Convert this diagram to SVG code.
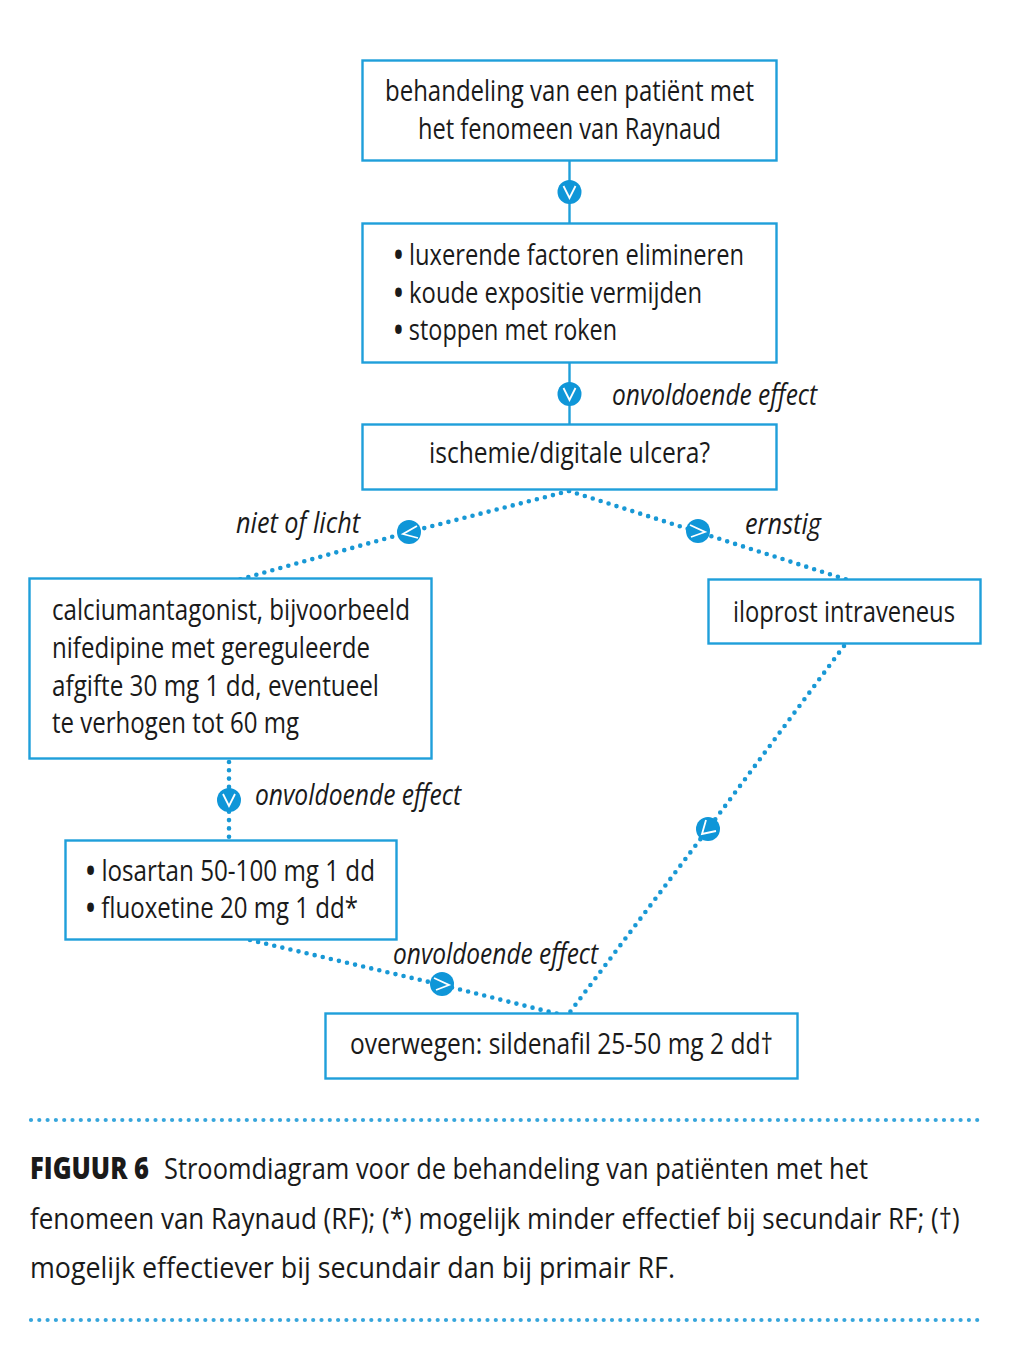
<svg xmlns="http://www.w3.org/2000/svg" width="1010" height="1359" viewBox="0 0 1010 1359">
<style>
text{font-family:"Open Sans","Noto Sans",sans-serif;font-size:30px;fill:#1a1a1a}
.i{font-style:italic}
.b{font-weight:800}
.n{font-weight:700}
.box{fill:#fff;stroke:#1f9fda;stroke-width:2.4}
.solid{fill:none;stroke:#1f9fda;stroke-width:2.4}
.dot{fill:none;stroke:#1898d5;stroke-width:4.6;stroke-linecap:round;stroke-dasharray:0 8.3}
.rule{stroke:#37a6dc;stroke-width:4.2}
.c{fill:#0f96d8}
.v{fill:none;stroke:#fff;stroke-width:1.8}
</style>
<rect width="1010" height="1359" fill="#fff"/>
<g id="connectors">
<path class="solid" d="M569.500 160V223"/>
<path class="solid" d="M569.500 362V424"/>
<path class="dot" d="M569 491L409 532L234 581"/>
<path class="dot" d="M569 491L698 532L851 581"/>
<path class="dot" d="M229 762V843"/>
<path class="dot" d="M844 646L708 829L567 1016"/>
<path class="dot" d="M250 940L442 985L558 1014"/>
<g id="arrow1"><circle class="c" cx="569.500" cy="192" r="12"/><path class="v" d="M563.500 186L569.500 198L575.500 186"/></g>
<g id="arrow2"><circle class="c" cx="569.500" cy="394" r="12"/><path class="v" d="M563.500 388L569.500 400L575.500 388"/></g>
<g id="arrow3"><circle class="c" cx="409" cy="532" r="12"/><path class="v" d="M417 526L403 534L418 538"/></g>
<g id="arrow4"><circle class="c" cx="698" cy="531" r="12"/><path class="v" d="M690 525L705 532L691 537"/></g>
<g id="arrow5"><circle class="c" cx="229" cy="800" r="12"/><path class="v" d="M223 794L229 806L235 794"/></g>
<g id="arrow6"><circle class="c" cx="708" cy="829" r="12"/><path class="v" d="M706 820L702 834L716 831"/></g>
<g id="arrow7"><circle class="c" cx="442" cy="984" r="12"/><path class="v" d="M434 978L449 985L436 990"/></g>
</g>
<g id="node-start"><rect class="box" x="362.500" y="60.500" width="414" height="100"/>
<text x="385" y="101" textLength="369" lengthAdjust="spacingAndGlyphs">behandeling van een patiënt met</text>
<text x="418" y="139" textLength="303" lengthAdjust="spacingAndGlyphs">het fenomeen van Raynaud</text></g>
<g id="node-factoren"><rect class="box" x="362.500" y="223.500" width="414" height="139"/>
<text x="394" y="265" textLength="350" lengthAdjust="spacingAndGlyphs"><tspan class="n">•</tspan> luxerende factoren elimineren</text>
<text x="394" y="303" textLength="308" lengthAdjust="spacingAndGlyphs"><tspan class="n">•</tspan> koude expositie vermijden</text>
<text x="394" y="340" textLength="223" lengthAdjust="spacingAndGlyphs"><tspan class="n">•</tspan> stoppen met roken</text></g>
<g id="node-ischemie"><rect class="box" x="362.500" y="424.500" width="414" height="65"/>
<text x="429" y="463" textLength="281" lengthAdjust="spacingAndGlyphs">ischemie/digitale ulcera?</text></g>
<g id="node-calcium"><rect class="box" x="29.500" y="578.500" width="402" height="180"/>
<text x="52" y="620" textLength="358" lengthAdjust="spacingAndGlyphs">calciumantagonist, bijvoorbeeld</text>
<text x="52" y="658" textLength="318" lengthAdjust="spacingAndGlyphs">nifedipine met gereguleerde</text>
<text x="52" y="696" textLength="327" lengthAdjust="spacingAndGlyphs">afgifte 30 mg 1 dd, eventueel</text>
<text x="52" y="733" textLength="247" lengthAdjust="spacingAndGlyphs">te verhogen tot 60 mg</text></g>
<g id="node-iloprost"><rect class="box" x="708.500" y="579.500" width="272" height="64"/>
<text x="0" y="0" transform="translate(733 622) scale(.8 1)" textLength="277.500" lengthAdjust="spacingAndGlyphs">iloprost intraveneus</text></g>
<g id="node-losartan"><rect class="box" x="65.500" y="840.500" width="331" height="99"/>
<text x="86" y="881" textLength="289" lengthAdjust="spacingAndGlyphs"><tspan class="n">•</tspan> losartan 50-100 mg 1 dd</text>
<text x="86" y="918" textLength="272" lengthAdjust="spacingAndGlyphs"><tspan class="n">•</tspan> fluoxetine 20 mg 1 dd*</text></g>
<g id="node-sildenafil"><rect class="box" x="325.500" y="1013.500" width="472" height="65"/>
<text x="350" y="1054" textLength="423" lengthAdjust="spacingAndGlyphs">overwegen: sildenafil 25-50 mg 2 dd†</text></g>
<g id="labels">
<text class="i" x="612" y="405" textLength="205" lengthAdjust="spacingAndGlyphs">onvoldoende effect</text>
<text class="i" x="236" y="533" textLength="124" lengthAdjust="spacingAndGlyphs">niet of licht</text>
<text class="i" x="745" y="534" textLength="76" lengthAdjust="spacingAndGlyphs">ernstig</text>
<text class="i" x="255" y="805" textLength="206" lengthAdjust="spacingAndGlyphs">onvoldoende effect</text>
<text class="i" x="393" y="964" textLength="205" lengthAdjust="spacingAndGlyphs">onvoldoende effect</text>
</g>
<g id="caption">
<path class="dot rule" d="M31 1120H984"/>
<text class="b" x="30" y="1179" textLength="119" lengthAdjust="spacingAndGlyphs">FIGUUR 6</text>
<text x="164" y="1179" textLength="704" lengthAdjust="spacingAndGlyphs">Stroomdiagram voor de behandeling van patiënten met het</text>
<text x="0" y="0" transform="translate(30 1229) scale(.8 1)" textLength="1162" lengthAdjust="spacingAndGlyphs">fenomeen van Raynaud (RF); (*) mogelijk minder effectief bij secundair RF; (†)</text>
<text x="30" y="1278" textLength="645" lengthAdjust="spacingAndGlyphs">mogelijk effectiever bij secundair dan bij primair RF.</text>
<path class="dot rule" d="M31 1320H984"/>
</g>
</svg>
